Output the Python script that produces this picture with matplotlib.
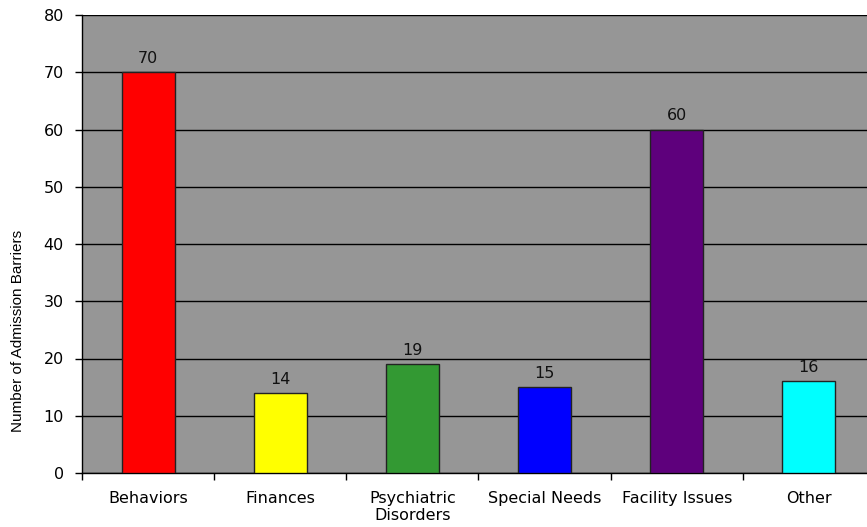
import matplotlib
matplotlib.use("Agg")
import matplotlib.pyplot as plt
import numpy as np

plt.rcParams['font.family'] = ['DejaVu Sans']

categories = ["Behaviors", "Finances", "Psychiatric\nDisorders", "Special Needs", "Facility Issues", "Other"]
values = [70, 14, 19, 15, 60, 16]
colors = ["#ff0000", "#ffff00", "#339933", "#0000ff", "#5e007c", "#00ffff"]
y_ticks = [0, 10, 20, 30, 40, 50, 60, 70, 80]

fig = plt.figure(figsize=(8.67, 5.27), dpi=100)
W, H = 867, 527
left, right, top, bottom = 82, 875, 15, 473
ax = fig.add_axes([left / W, 1 - bottom / H, (right - left) / W, (bottom - top) / H])
ax.set_facecolor("#969696")

x = np.arange(len(categories))
ax.bar(x, values, width=0.4, color=colors, edgecolor="#222222", linewidth=1.0, zorder=3)
for xi, v in zip(x, values):
    ax.annotate(str(v), (xi, v), xytext=(0, 6.5), textcoords="offset points",
                ha="center", va="baseline", fontsize=11.5, color="#111111", zorder=4)

ax.set_xlim(-0.5, len(categories) - 0.5)
ax.set_ylim(0, 80)
ax.set_yticks(y_ticks)
ax.yaxis.grid(True, color="black", linewidth=1.0, zorder=1)
ax.set_axisbelow(True)

ax.set_xticks(x)
ax.set_xticklabels(categories, fontsize=11.5, linespacing=1.2)
ax.set_xticks(np.arange(len(categories) + 1) - 0.5, minor=True)
ax.tick_params(axis="x", which="major", length=0, pad=13)
ax.tick_params(axis="x", which="minor", length=5, width=1, direction="out", color="black")
ax.tick_params(axis="y", length=5, width=1, direction="out", labelsize=11.5, pad=8)

for s in ["top", "right"]:
    ax.spines[s].set_visible(False)
for s in ["left", "bottom"]:
    ax.spines[s].set_color("black")
    ax.spines[s].set_linewidth(1.0)

fig.text(18 / W, 1 - 331 / H, "Number of Admission Barriers", rotation=90,
         ha="center", va="center", fontsize=11, family=["Liberation Sans"])

fig.savefig("out.png", dpi=100)
